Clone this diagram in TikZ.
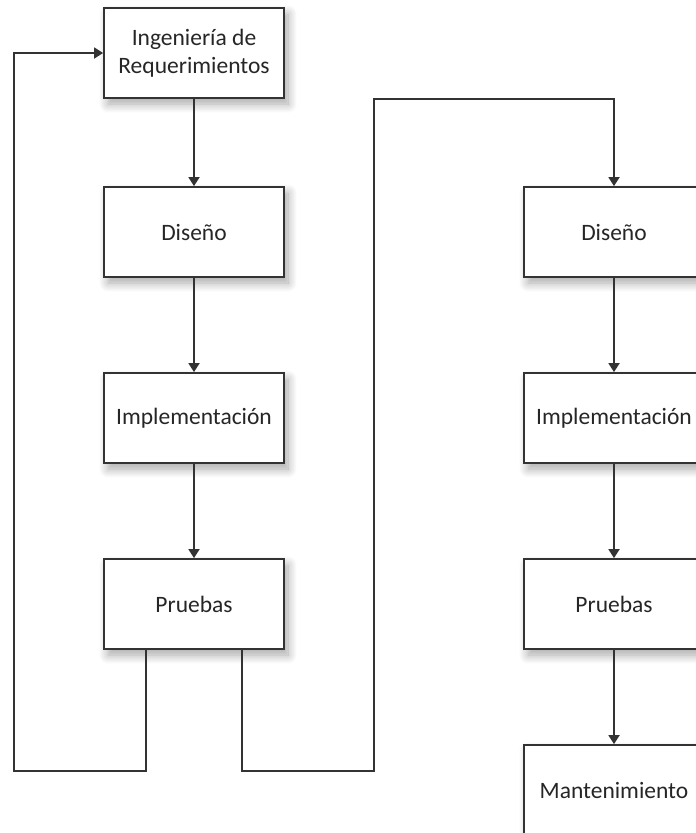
\documentclass[tikz,border=0pt]{standalone}
\usepackage{fontspec}
\setmainfont{Carlito}
\usetikzlibrary{arrows.meta,shadows.blur,calc}
\definecolor{edge}{HTML}{333333}
\definecolor{ink}{HTML}{262626}
\tikzset{
  stage/.style={draw=edge, line width=1.8pt, fill=white, minimum width=180pt,
    minimum height=90pt, inner sep=0pt, align=center, text=ink,
    font=\fontsize{23.5}{28}\selectfont,
    blur shadow={shadow xshift=4pt, shadow yshift=-6pt, shadow blur radius=9pt,
      shadow blur steps=12, shadow opacity=35}},
  flow/.style={draw=edge, line width=1.8pt},
  tip/.style={-{Triangle[width=11pt,length=9pt]}}
}
\begin{document}
\begin{tikzpicture}[x=1pt,y=-1pt]
  \useasboundingbox (0,0) rectangle (696,833);
  % left column
  \node[stage] (ing) at (194,53) {Ingeniería de\\Requerimientos};
  \node[stage] (d1) at (194,232) {Diseño};
  \node[stage] (i1) at (194,418) {Implementación};
  \node[stage] (p1) at (194,604) {Pruebas};
  % right column
  \node[stage] (d2) at (614,232) {Diseño};
  \node[stage] (i2) at (614,418) {Implementación};
  \node[stage] (p2) at (614,604) {Pruebas};
  \node[stage] (m2) at (614,790) {Mantenimiento};
  % bends of the return loops
  \coordinate (bl) at (14,771);
  \coordinate (br) at (374,771);
  \coordinate (tr) at (374,99);
  % straight steps
  \draw[flow,tip] (ing.south) -- (d1.north);
  \draw[flow,tip] (d1.south) -- (i1.north);
  \draw[flow,tip] (i1.south) -- (p1.north);
  \draw[flow,tip] (d2.south) -- (i2.north);
  \draw[flow,tip] (i2.south) -- (p2.north);
  \draw[flow,tip] (p2.south) -- (m2.north);
  % feedback loop back to requirements
  \draw[flow,tip] ([xshift=-48pt]p1.south) |- (bl) |- (ing.west);
  % jump to the second iteration
  \draw[flow,tip] ([xshift=48pt]p1.south) |- (br) -- (tr) -| (d2.north);
\end{tikzpicture}
\end{document}
